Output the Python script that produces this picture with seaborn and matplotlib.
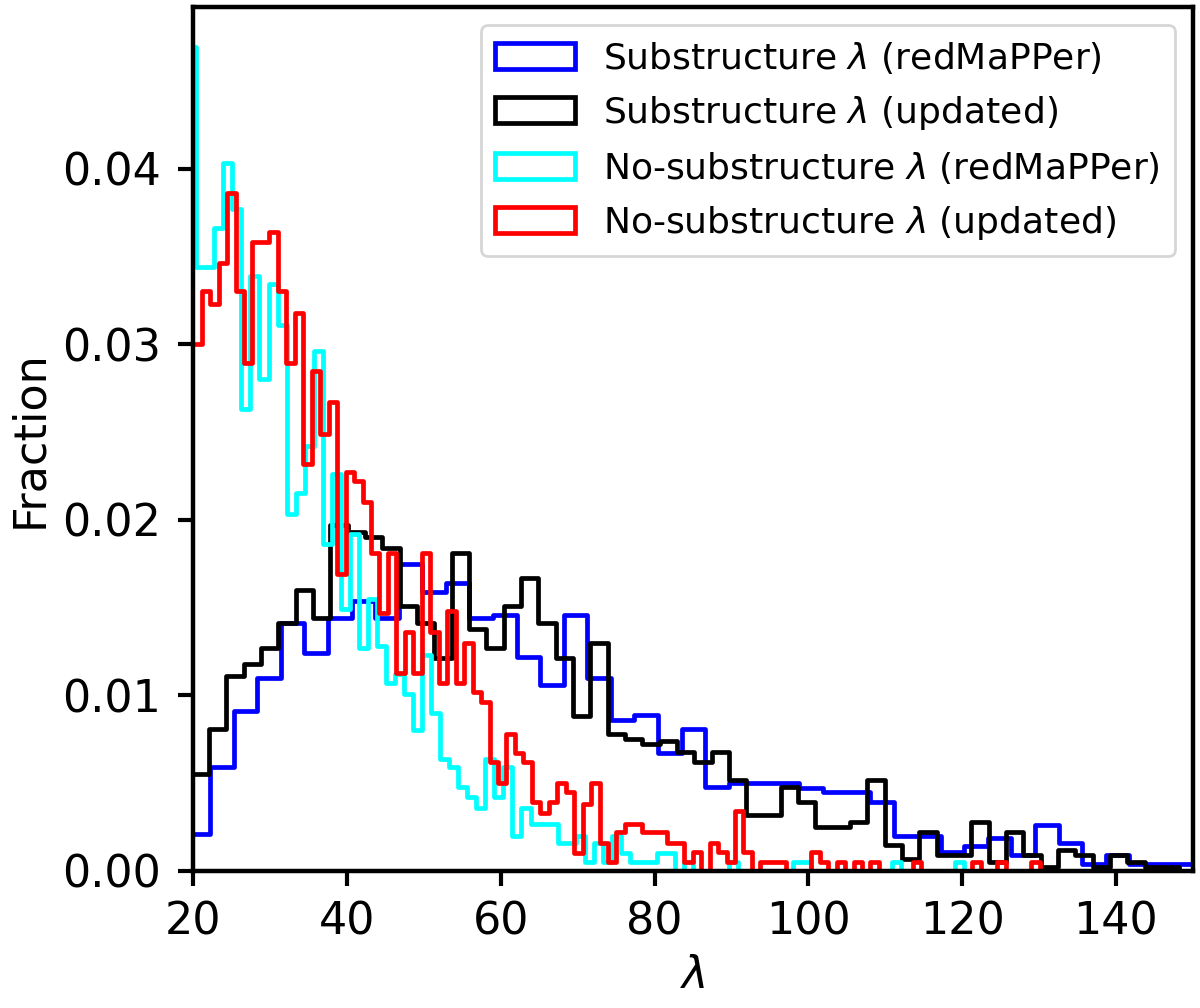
import matplotlib
matplotlib.use("Agg")
import matplotlib.pyplot as plt
import numpy as np
import pandas as pd
import seaborn as sns
from matplotlib.patches import Patch

# bin layout (first edge, bin width) and per-bin fractions
blue_start, blue_width = 19.14, 3.065
blue_frac = [0.0021, 0.0059, 0.0091, 0.0110, 0.0141, 0.0124, 0.0144, 0.0154, 0.0144,
             0.0175, 0.0159, 0.0164, 0.0144, 0.0146, 0.0122, 0.0106, 0.0146, 0.0110,
             0.0086, 0.0089, 0.0067, 0.0081, 0.0048, 0.0050, 0.0050, 0.0050, 0.0047,
             0.0045, 0.0045, 0.0039, 0.0020, 0.0020, 0.0011, 0.0014, 0.0019, 0.0009,
             0.0026, 0.0016, 0.0004, 0.0009, 0.0004, 0.0004, 0.0004]

black_start, black_width = 19.82, 2.253
black_frac = [0.0055, 0.0081, 0.0111, 0.0118, 0.0127, 0.0141, 0.0160, 0.0144, 0.0197,
              0.0193, 0.0190, 0.0184, 0.0151, 0.0141, 0.0121, 0.0181, 0.0138, 0.0127,
              0.0151, 0.0167, 0.0141, 0.0121, 0.0088, 0.0130, 0.0078, 0.0075, 0.0072,
              0.0074, 0.0068, 0.0062, 0.0068, 0.0052, 0.0032, 0.0032, 0.0048, 0.0039,
              0.0025, 0.0025, 0.0028, 0.0052, 0.0015, 0.0007, 0.0022, 0.0009, 0.0009,
              0.0028, 0.0005, 0.0022, 0.0009, 0.0002, 0.0012, 0.0009, 0.0002, 0.0009,
              0.0005, 0.0002, 0.0002, 0.0]

cyan_start, cyan_width = 19.22, 1.175
cyan_frac = [0.0469, 0.0344, 0.0344, 0.0366, 0.0403, 0.0377, 0.0263, 0.0339, 0.0280,
             0.0334, 0.0311, 0.0203, 0.0215, 0.0242, 0.0296, 0.0186, 0.0226, 0.0149,
             0.0192, 0.0127, 0.0155, 0.0128, 0.0107, 0.0112, 0.0101, 0.0080, 0.0123,
             0.0090, 0.0064, 0.0059, 0.0048, 0.0042, 0.0036, 0.0064, 0.0042, 0.0059,
             0.0020, 0.0036, 0.0027, 0.0027, 0.0027, 0.0016, 0.0016, 0.0020, 0.0005,
             0.0016, 0.0005, 0.0020, 0.0010, 0.0005, 0.0005, 0.0005, 0.0010, 0.0010,
             0.0, 0.0005, 0.0, 0.0, 0.0, 0.0, 0.0005, 0.0, 0.0, 0.0, 0.0, 0.0, 0.0,
             0.0005, 0.0005, 0.0, 0.0, 0.0, 0.0, 0.0, 0.0, 0.0, 0.0, 0.0, 0.0005, 0.0,
             0.0, 0.0, 0.0, 0.0, 0.0, 0.0005, 0.0]

red_start, red_width = 20.0, 1.101
red_frac = [0.0300, 0.0330, 0.0323, 0.0346, 0.0386, 0.0330, 0.0289, 0.0358, 0.0358,
            0.0364, 0.0330, 0.0289, 0.0318, 0.0232, 0.0285, 0.0249, 0.0267, 0.0169,
            0.0227, 0.0222, 0.0210, 0.0181, 0.0147, 0.0181, 0.0113, 0.0136, 0.0113,
            0.0181, 0.0136, 0.0107, 0.0148, 0.0107, 0.0130, 0.0102, 0.0096, 0.0062,
            0.0050, 0.0078, 0.0067, 0.0062, 0.0039, 0.0033, 0.0039, 0.0050, 0.0045,
            0.0010, 0.0038, 0.0050, 0.0016, 0.0005, 0.0022, 0.0027, 0.0027, 0.0022,
            0.0022, 0.0022, 0.0016, 0.0016, 0.0005, 0.0011, 0.0, 0.0016, 0.0011,
            0.0005, 0.0034, 0.0011, 0.0, 0.0005, 0.0005, 0.0005, 0.0, 0.0, 0.0,
            0.0011, 0.0005, 0.0, 0.0005, 0.0, 0.0005, 0.0, 0.0005, 0.0, 0.0, 0.0, 0.0,
            0.0005, 0.0, 0.0, 0.0, 0.0, 0.0, 0.0, 0.0005, 0.0, 0.0, 0.0005, 0.0, 0.0,
            0.0, 0.0005, 0.0]

labels = ["Substructure $\\lambda$ (redMaPPer)", "Substructure $\\lambda$ (updated)",
          "No-substructure $\\lambda$ (redMaPPer)", "No-substructure $\\lambda$ (updated)"]
colors = ["blue", "black", "cyan", "red"]

sns.set_theme(style="ticks", rc={
    "axes.edgecolor": "black", "axes.labelcolor": "black", "text.color": "black",
    "xtick.color": "black", "ytick.color": "black",
    "axes.linewidth": 1.6, "xtick.major.width": 1.5, "ytick.major.width": 1.5,
    "xtick.major.size": 5.5, "ytick.major.size": 5.5,
    "xtick.major.pad": 5, "ytick.major.pad": 6,
    "xtick.labelsize": 16, "ytick.labelsize": 16, "axes.labelsize": 16,
})
plt.rcParams["font.family"] = ["DejaVu Sans"]


def step_hist(ax, start, width, frac, color):
    edges = start + width * np.arange(len(frac) + 1)
    df = pd.DataFrame({"lam": 0.5 * (edges[:-1] + edges[1:]), "frac": frac})
    # bins as a plain list: seaborn compares bins to "auto" when weights are given
    sns.histplot(data=df, x="lam", weights="frac", bins=edges.tolist(), element="step",
                 fill=False, color=color, lw=1.7, ax=ax)


fig, ax = plt.subplots(figsize=(6.0, 5.04), dpi=200)
fig.subplots_adjust(left=0.161, right=0.994, top=0.993, bottom=0.136)

series = [(blue_start, blue_width, blue_frac), (black_start, black_width, black_frac),
          (cyan_start, cyan_width, cyan_frac), (red_start, red_width, red_frac)]
for (start, width, frac), c in zip(series, colors):
    step_hist(ax, start, width, frac, c)

ax.set_xlim(20, 150)
ax.set_ylim(0, 0.0492)
ax.set_yticks([0.0, 0.01, 0.02, 0.03, 0.04])
ax.set_xlabel("$\\lambda$")
ax.set_ylabel("Fraction")

handles = [Patch(facecolor="none", edgecolor=c, lw=1.7) for c in colors]
ax.legend(handles, labels, loc="upper right", fontsize=13, handlelength=2.2)

fig.savefig("out.png", dpi=200)
